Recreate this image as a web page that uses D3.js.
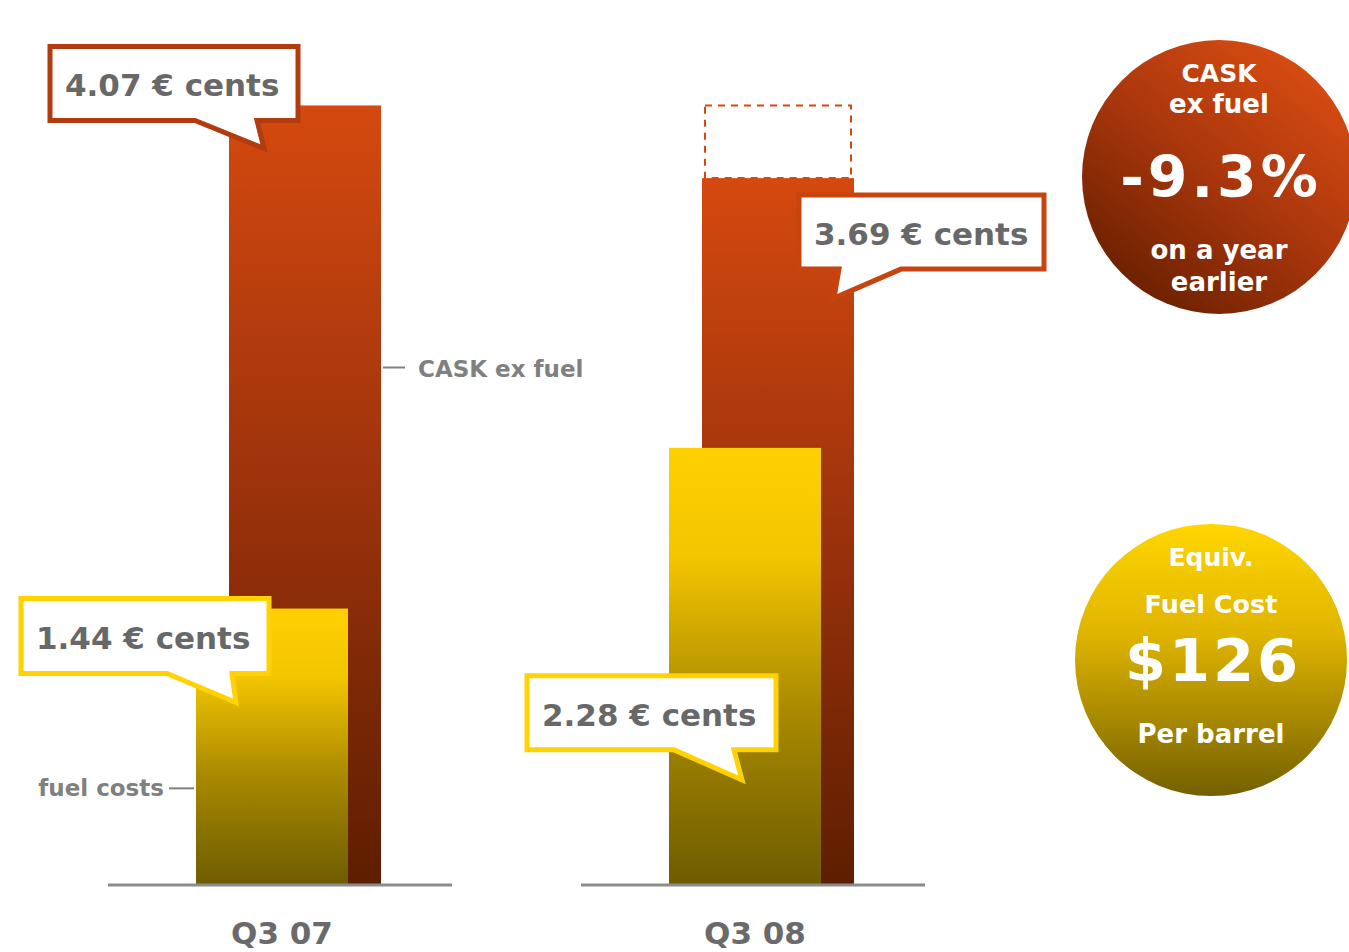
<!DOCTYPE html>
<html>
<head>
<meta charset="utf-8">
<script src="https://cdn.jsdelivr.net/npm/d3@7"></script>
<style>
  html, body { margin: 0; padding: 0; background: #fff; }
  svg { display: block; }
  text { font-family: "DejaVu Sans", Verdana, sans-serif; font-weight: bold; }
</style>
</head>
<body>
<svg id="chart" width="1349" height="952"></svg>
<script>
// ---------- data ----------
const categories = ["Q3 07", "Q3 08"];
const caskExFuel = [4.07, 3.69];          // € cents
const fuelCosts  = [1.44, 2.28];          // € cents
const seriesNames = ["CASK ex fuel", "fuel costs"];
const valueUnit = "€ cents";
const caskBadgeText = ["CASK", "ex fuel", "-9.3%", "on a year", "earlier"];
const fuelBadgeText = ["Equiv.", "Fuel Cost", "$126", "Per barrel"];

// ---------- setup ----------
const svg = d3.select("#chart");
const defs = svg.append("defs");

function vGrad(id, stops, x1 = "0", y1 = "0", x2 = "0", y2 = "1") {
  const g = defs.append("linearGradient").attr("id", id)
    .attr("x1", x1).attr("y1", y1).attr("x2", x2).attr("y2", y2);
  stops.forEach(([o, c]) => g.append("stop").attr("offset", o).attr("stop-color", c));
}
vGrad("gCask", [[0, "#d5490f"], [0.5, "#9b320c"], [1, "#5e1e00"]]);
vGrad("gFuel", [[0, "#ffd000"], [0.25, "#f3c500"], [0.6, "#a98a00"], [1, "#6e5c00"]]);
vGrad("gCaskBadge", [[0, "#d84c12"], [0.5, "#a8360c"], [1, "#6a2000"]], "0.85", "0.1", "0.2", "0.95");
vGrad("gFuelBadge", [[0, "#ffd600"], [0.4, "#e0b500"], [1, "#746000"]]);

const baseY = 884;
const y = d3.scaleLinear().domain([0, 4.25]).range([baseY, 71]);
const x = d3.scaleBand().domain(categories).range([108, 925]).paddingInner(0.2727).paddingOuter(0);
const barW = 152;
const fuelOffset = 88, caskOffset = 121;

const rows = categories.map((c, i) => ({ cat: c, cask: caskExFuel[i], fuel: fuelCosts[i] }));

// dashed outline showing previous year's CASK level on later bar
const last = rows[rows.length - 1];
svg.append("rect")
  .attr("x", x(last.cat) + caskOffset + 3)
  .attr("y", y(rows[0].cask))
  .attr("width", barW - 6)
  .attr("height", y(last.cask) - y(rows[0].cask))
  .attr("fill", "none")
  .attr("stroke", "#d4480f")
  .attr("stroke-width", 2)
  .attr("stroke-dasharray", "7,6");

// CASK bars
svg.selectAll(".cask").data(rows).enter().append("rect")
  .attr("class", "cask")
  .attr("x", d => x(d.cat) + caskOffset)
  .attr("y", d => y(d.cask))
  .attr("width", barW)
  .attr("height", d => baseY - y(d.cask))
  .attr("fill", "url(#gCask)");

// fuel bars
svg.selectAll(".fuel").data(rows).enter().append("rect")
  .attr("class", "fuel")
  .attr("x", d => x(d.cat) + fuelOffset)
  .attr("y", d => y(d.fuel))
  .attr("width", barW)
  .attr("height", d => baseY - y(d.fuel))
  .attr("fill", "url(#gFuel)");

// baselines
svg.selectAll(".base").data(categories).enter().append("line")
  .attr("x1", d => x(d)).attr("x2", d => x(d) + x.bandwidth())
  .attr("y1", baseY + 1).attr("y2", baseY + 1)
  .attr("stroke", "#8c8c8c").attr("stroke-width", 3);

// category labels
svg.selectAll(".cat").data(categories).enter().append("text")
  .attr("x", d => x(d) + x.bandwidth() / 2 + 2)
  .attr("y", 944)
  .attr("text-anchor", "middle")
  .attr("font-size", 31)
  .attr("fill", "#6a6a6a")
  .text(d => d);

// series annotations
const q07 = rows[0];
const caskRight = x(q07.cat) + caskOffset + barW;
svg.append("line").attr("x1", caskRight + 2).attr("x2", caskRight + 24)
  .attr("y1", y(2.7)).attr("y2", y(2.7)).attr("stroke", "#808080").attr("stroke-width", 2);
svg.append("text").attr("x", caskRight + 37).attr("y", y(2.7) + 9)
  .attr("font-size", 23).attr("fill", "#808080").text(seriesNames[0]);
const fuelLeft = x(q07.cat) + fuelOffset;
svg.append("line").attr("x1", fuelLeft - 27).attr("x2", fuelLeft - 2)
  .attr("y1", y(0.5)).attr("y2", y(0.5)).attr("stroke", "#808080").attr("stroke-width", 2);
svg.append("text").attr("x", fuelLeft - 32).attr("y", y(0.5) + 8)
  .attr("text-anchor", "end")
  .attr("font-size", 23).attr("fill", "#808080").text(seriesNames[1]);

// callouts
function callout(bx, by, w, h, tL, tR, tipX, tipY, color, label) {
  const g = svg.append("g");
  const p = d3.path();
  p.moveTo(bx, by);
  p.lineTo(bx + w, by);
  p.lineTo(bx + w, by + h);
  p.lineTo(bx + tR, by + h);
  p.lineTo(tipX, tipY);
  p.lineTo(bx + tL, by + h);
  p.lineTo(bx, by + h);
  p.closePath();
  g.append("path").attr("d", p.toString())
    .attr("fill", "#fff").attr("stroke", color).attr("stroke-width", 5)
    .attr("stroke-linejoin", "miter");
  g.append("text").attr("x", bx + 15).attr("y", by + 50)
    .attr("font-size", 31).attr("fill", "#686868").text(label);
}
const fmt = v => v.toFixed(2) + " " + valueUnit;

// Q3 07 CASK
{
  const bx = x(rows[0].cat) + caskOffset, top = y(rows[0].cask);
  callout(bx - 179, top - 59, 248, 74, 145, 207, bx + 35, top + 43, "#b23c10", fmt(rows[0].cask));
}
// Q3 08 CASK
{
  const bx = x(rows[1].cat) + caskOffset, top = y(rows[1].cask);
  callout(bx + 97, top + 17, 245, 74, 40, 102, bx + 132, top + 120, "#c8440f", fmt(rows[1].cask));
}
// Q3 07 fuel
{
  const bx = x(rows[0].cat) + fuelOffset, top = y(rows[0].fuel);
  callout(bx - 175, top - 10, 248, 75, 146, 211, bx + 40, top + 94, "#ffd200", fmt(rows[0].fuel));
}
// Q3 08 fuel
{
  const bx = x(rows[1].cat) + fuelOffset, top = y(rows[1].fuel);
  callout(bx - 142, top + 228, 249, 74, 147, 207, bx + 73, top + 332, "#ffd200", fmt(rows[1].fuel));
}

// badges
function badge(cx, cy, r, fill, lines) {
  const g = svg.append("g");
  g.append("circle").attr("cx", cx).attr("cy", cy).attr("r", r).attr("fill", fill);
  lines.forEach(l => {
    g.append("text").attr("x", cx + (l.dx || 0)).attr("y", l.y)
      .attr("text-anchor", "middle")
      .attr("font-size", l.size)
      .attr("letter-spacing", l.ls || 0)
      .attr("fill", "#fff").text(l.t);
  });
}
badge(1219, 177, 137, "url(#gCaskBadge)", [
  { t: caskBadgeText[0], y: 82, size: 25 },
  { t: caskBadgeText[1], y: 113, size: 26 },
  { t: caskBadgeText[2], y: 197, size: 57, ls: 4, dx: 2 },
  { t: caskBadgeText[3], y: 259, size: 26 },
  { t: caskBadgeText[4], y: 291, size: 26 }
]);
badge(1211, 660, 136, "url(#gFuelBadge)", [
  { t: fuelBadgeText[0], y: 566, size: 25 },
  { t: fuelBadgeText[1], y: 613, size: 25.5 },
  { t: fuelBadgeText[2], y: 681, size: 59, ls: 3, dx: 2 },
  { t: fuelBadgeText[3], y: 743, size: 26 }
]);
</script>
</body>
</html>
